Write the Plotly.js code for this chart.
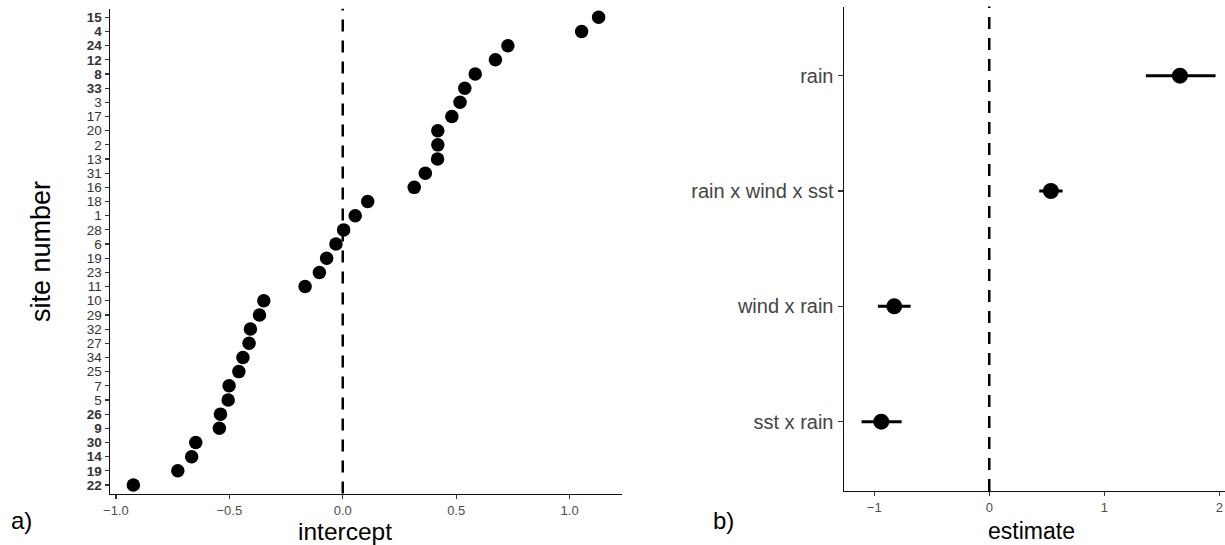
<!DOCTYPE html>
<html>
<head>
<meta charset="utf-8">
<script src="https://cdn.plot.ly/plotly-3.0.1.min.js"></script>
<style>html,body{margin:0;padding:0;background:#fff;}#chart{width:1225px;height:545px;}</style>
</head>
<body>
<div id="chart"></div>
<script>
// Panel a) site intercepts, listed top to bottom
const siteLabels = ['15','4','24','12','8','33','3','17','20','2','13','31','16','18','1','28','6','19','23','11','10','29','32','27','34','25','7','5','26','9','30','14','19','22'];
const siteBold = [1,1,1,1,1,1,0,0,0,0,0,0,0,0,0,0,0,0,0,0,0,0,0,0,0,0,0,0,1,1,1,1,1,1];
const intercepts = [1.128,1.053,0.728,0.673,0.584,0.538,0.517,0.481,0.419,0.419,0.418,0.364,0.315,0.110,0.055,0.004,-0.030,-0.071,-0.103,-0.166,-0.348,-0.367,-0.407,-0.413,-0.440,-0.458,-0.501,-0.505,-0.539,-0.544,-0.648,-0.666,-0.727,-0.923];
const xTicksA = [-1.0,-0.5,0.0,0.5,1.0];
const xTickTextA = ['\u22121.0','\u22120.5','0.0','0.5','1.0'];

// Panel b) model estimates
const terms = ['rain','rain x wind x sst','wind x rain','sst x rain'];
const estimates = [1.658,0.536,-0.826,-0.939];
const lowerCI = [1.362,0.435,-0.968,-1.110];
const upperCI = [1.968,0.638,-0.684,-0.762];
const xTicksB = [-1,0,1,2];
const xTickTextB = ['\u22121','0','1','2'];

const FONT = '"Liberation Sans", Arial, sans-serif';
const W = 1225, H = 545;

const n = siteLabels.length;
const rowPos = siteLabels.map((_, i) => n - i);
const rowText = siteLabels.map((s, i) => siteBold[i] ? '<b>' + s + '</b>' : s);

const traceA = {
  type: 'scatter', mode: 'markers',
  x: intercepts, y: rowPos,
  xaxis: 'x', yaxis: 'y',
  marker: {color: '#000', size: 13.5},
  hoverinfo: 'x+y', showlegend: false
};

const termsRev = terms.slice().reverse();
const traceB = {
  type: 'scatter', mode: 'markers',
  x: estimates, y: terms,
  xaxis: 'x2', yaxis: 'y2',
  marker: {color: '#000', size: 16},
  error_x: {
    type: 'data', symmetric: false,
    array: upperCI.map((u, i) => u - estimates[i]),
    arrayminus: estimates.map((e, i) => e - lowerCI[i]),
    color: '#000', thickness: 3, width: 0
  },
  showlegend: false
};

const px = v => v / W;
const py = v => (H - v) / H;

const axisCommon = {
  showline: true, linecolor: '#111', linewidth: 1.5,
  ticks: 'outside', ticklen: 4, tickwidth: 1.2, tickcolor: '#333',
  showgrid: false, zeroline: false,
  tickfont: {family: FONT, size: 13, color: '#4d4d4d'}
};

const layout = {
  width: W, height: H,
  margin: {l: 0, r: 0, t: 0, b: 0},
  paper_bgcolor: '#fff', plot_bgcolor: '#fff',
  showlegend: false,
  font: {family: FONT, color: '#000'},
  xaxis: Object.assign({}, axisCommon, {
    domain: [px(110), px(622)], anchor: 'y',
    range: [-1.026, 1.231],
    tickmode: 'array', tickvals: xTicksA, ticktext: xTickTextA
  }),
  yaxis: Object.assign({}, axisCommon, {
    domain: [py(493.5), py(8.8)], anchor: 'x',
    range: [0.4, 34.6],
    tickmode: 'array', tickvals: rowPos, ticktext: rowText,
    tickfont: {family: FONT, size: 13.5, color: '#333'}
  }),
  xaxis2: Object.assign({}, axisCommon, {
    domain: [px(844), 1], anchor: 'y2',
    range: [-1.263, 2.05],
    tickmode: 'array', tickvals: xTicksB, ticktext: xTickTextB
  }),
  yaxis2: Object.assign({}, axisCommon, {
    domain: [py(490.9), py(6.5)], anchor: 'x2',
    type: 'category', categoryorder: 'array', categoryarray: termsRev,
    range: [-0.6, 3.6],
    ticklen: 5,
    tickfont: {family: FONT, size: 20, color: '#444'}
  }),
  shapes: [
    {type: 'line', xref: 'x', yref: 'y domain', x0: 0, x1: 0, y0: 0, y1: 1,
     line: {color: '#000', width: 2.5, dash: '12px,9px'}},
    {type: 'line', xref: 'x2', yref: 'y2 domain', x0: 0, x1: 0, y0: 0, y1: 1,
     line: {color: '#000', width: 2.5, dash: '12px,9px'}}
  ],
  annotations: [
    {text: 'intercept', xref: 'paper', yref: 'paper', x: px(345), y: py(531),
     xanchor: 'center', yanchor: 'middle', showarrow: false,
     font: {family: FONT, size: 24.5, color: '#000'}},
    {text: 'estimate', xref: 'paper', yref: 'paper', x: px(1031), y: py(531),
     xanchor: 'center', yanchor: 'middle', showarrow: false,
     font: {family: FONT, size: 23, color: '#000'}},
    {text: 'site number', xref: 'paper', yref: 'paper', x: px(41), y: py(252),
     xanchor: 'center', yanchor: 'middle', textangle: -90, showarrow: false,
     font: {family: FONT, size: 27, color: '#000'}},
    {text: 'a)', xref: 'paper', yref: 'paper', x: px(21), y: py(520),
     xanchor: 'center', yanchor: 'middle', showarrow: false,
     font: {family: FONT, size: 24, color: '#000'}},
    {text: 'b)', xref: 'paper', yref: 'paper', x: px(723), y: py(520),
     xanchor: 'center', yanchor: 'middle', showarrow: false,
     font: {family: FONT, size: 24, color: '#000'}}
  ]
};

Plotly.newPlot('chart', [traceA, traceB], layout, {displayModeBar: false, staticPlot: true});
</script>
</body>
</html>
